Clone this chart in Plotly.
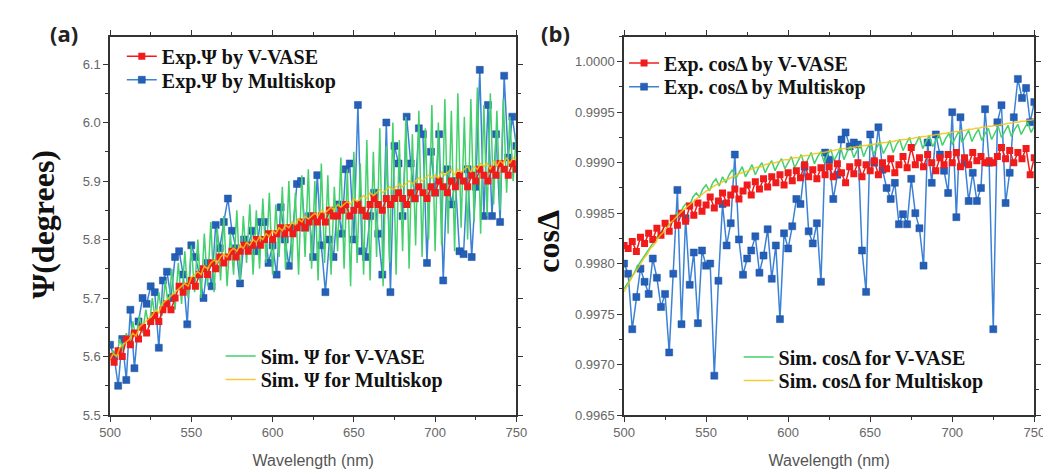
import plotly.graph_objects as go

# ---------------- data ----------------
wl_exp = [500 + 2.5 * i for i in range(101)]
wl_sim = list(range(500, 751, 2))

psi_vvase = [
    5.60, 5.59, 5.61, 5.60, 5.63, 5.62, 5.64, 5.63, 5.65, 5.64,
    5.66, 5.67, 5.66, 5.68, 5.69, 5.68, 5.70, 5.72, 5.71, 5.72,
    5.73, 5.72, 5.74, 5.75, 5.74, 5.76, 5.75, 5.77, 5.76, 5.77,
    5.78, 5.77, 5.78, 5.79, 5.78, 5.79, 5.80, 5.79, 5.80, 5.81,
    5.80, 5.81, 5.82, 5.81, 5.82, 5.81, 5.82, 5.83, 5.82, 5.83,
    5.84, 5.83, 5.84, 5.83, 5.85, 5.84, 5.84, 5.85, 5.86, 5.84,
    5.85, 5.86, 5.85, 5.84, 5.86, 5.87, 5.86, 5.85, 5.87, 5.86,
    5.87, 5.88, 5.87, 5.86, 5.88, 5.87, 5.89, 5.88, 5.87, 5.89,
    5.88, 5.90, 5.89, 5.88, 5.90, 5.89, 5.91, 5.90, 5.89, 5.91,
    5.90, 5.92, 5.91, 5.90, 5.92, 5.91, 5.93, 5.92, 5.91, 5.93,
    5.92]

psi_multiskop = [
    5.62, 5.60, 5.55, 5.63, 5.56, 5.68, 5.58, 5.66, 5.70, 5.69,
    5.72, 5.71, 5.615, 5.73, 5.745, 5.70, 5.77, 5.78, 5.74, 5.655,
    5.79, 5.77, 5.74, 5.70, 5.76, 5.72, 5.825, 5.785, 5.83, 5.87,
    5.815, 5.785, 5.725, 5.80, 5.79, 5.815, 5.78, 5.83, 5.83, 5.76,
    5.79, 5.74, 5.855, 5.80, 5.755, 5.82, 5.895, 5.90, 5.82, 5.84,
    5.77, 5.91, 5.79, 5.71, 5.80, 5.77, 5.86, 5.81, 5.92, 5.93,
    5.80, 6.03, 5.78, 5.77, 5.84, 5.88, 5.81, 5.74, 6.00, 5.71,
    5.96, 5.93, 5.84, 6.01, 5.93, 5.87, 5.99, 5.98, 5.76, 5.95,
    5.88, 5.98, 5.73, 5.92, 5.86, 5.90, 5.78, 5.775, 5.92, 5.77,
    5.89, 6.09, 5.84, 6.03, 5.84, 5.98, 5.83, 6.08, 5.94, 6.01,
    5.96]

psi_sim_vvase = [
    5.60, 5.61, 5.60, 5.63, 5.61, 5.64, 5.62, 5.66, 5.63, 5.67,
    5.64, 5.68, 5.65, 5.70, 5.66, 5.71, 5.67, 5.73, 5.68, 5.75,
    5.68, 5.76, 5.69, 5.78, 5.70, 5.79, 5.71, 5.80, 5.70, 5.81,
    5.72, 5.83, 5.71, 5.82, 5.73, 5.84, 5.72, 5.81, 5.74, 5.85,
    5.73, 5.84, 5.76, 5.86, 5.74, 5.85, 5.75, 5.87, 5.76, 5.88,
    5.74, 5.86, 5.77, 5.89, 5.75, 5.90, 5.76, 5.88, 5.74, 5.91,
    5.77, 5.92, 5.75, 5.90, 5.73, 5.93, 5.76, 5.91, 5.74, 5.89,
    5.78, 5.94, 5.75, 5.92, 5.72, 5.95, 5.76, 5.93, 5.74, 5.97,
    5.73, 5.95, 5.77, 5.99, 5.72, 5.96, 5.76, 6.00, 5.74, 5.97,
    5.78, 6.01, 5.75, 5.98, 5.79, 6.02, 5.77, 5.99, 5.80, 6.03,
    5.78, 6.00, 5.79, 6.04, 5.81, 6.02, 5.78, 6.05, 5.82, 6.01,
    5.80, 6.04, 5.83, 6.06, 5.81, 6.03, 5.84, 6.05, 5.86, 6.02,
    5.85, 6.04, 5.88, 6.01, 5.90, 5.98]

psi_sim_multiskop = [
    5.595, 5.605, 5.60, 5.615, 5.62, 5.625, 5.63, 5.64, 5.635, 5.65,
    5.655, 5.66, 5.665, 5.67, 5.68, 5.675, 5.69, 5.695, 5.70, 5.705,
    5.71, 5.715, 5.72, 5.725, 5.72, 5.735, 5.74, 5.745, 5.74, 5.755,
    5.75, 5.76, 5.765, 5.76, 5.77, 5.775, 5.77, 5.78, 5.785, 5.78,
    5.79, 5.785, 5.795, 5.79, 5.80, 5.795, 5.805, 5.80, 5.81, 5.805,
    5.815, 5.81, 5.82, 5.815, 5.825, 5.82, 5.83, 5.825, 5.835, 5.83,
    5.84, 5.835, 5.84, 5.845, 5.84, 5.85, 5.845, 5.85, 5.855, 5.85,
    5.86, 5.855, 5.86, 5.865, 5.86, 5.87, 5.865, 5.87, 5.875, 5.87,
    5.88, 5.875, 5.88, 5.885, 5.88, 5.885, 5.89, 5.885, 5.89, 5.895,
    5.89, 5.895, 5.90, 5.895, 5.90, 5.905, 5.90, 5.905, 5.91, 5.905,
    5.91, 5.905, 5.915, 5.91, 5.915, 5.92, 5.91, 5.92, 5.915, 5.92,
    5.925, 5.915, 5.925, 5.92, 5.93, 5.925, 5.93, 5.92, 5.935, 5.925,
    5.935, 5.93, 5.94, 5.93, 5.94, 5.935]

cos_vvase = [
    0.99818, 0.99815, 0.99822, 0.99812, 0.99826, 0.99820, 0.99830, 0.99824, 0.99835, 0.99828,
    0.99840, 0.99832, 0.99845, 0.99838, 0.99850, 0.99842, 0.99857, 0.99848, 0.99860, 0.99852,
    0.99858, 0.99866, 0.99855, 0.99862, 0.99870, 0.99860, 0.99868, 0.99874, 0.99864, 0.99872,
    0.99878, 0.99868, 0.99881, 0.99874, 0.99884, 0.99876, 0.99886, 0.99880, 0.99888, 0.99878,
    0.99890, 0.99882, 0.99892, 0.99885, 0.99898, 0.99886, 0.99893, 0.99884, 0.99895, 0.99888,
    0.99896, 0.99886, 0.99899, 0.99890, 0.99880, 0.99896, 0.99889, 0.99900, 0.99886, 0.99898,
    0.99892, 0.99902, 0.99888, 0.99900, 0.99894, 0.99904, 0.99890, 0.99898, 0.99906, 0.99895,
    0.99915, 0.99898, 0.99905, 0.99896, 0.99908, 0.99900, 0.99892, 0.99905, 0.99898, 0.99908,
    0.99900, 0.99910, 0.99896, 0.99905, 0.99898, 0.99910, 0.99902, 0.99906, 0.99900, 0.99902,
    0.99900, 0.99906, 0.99915, 0.99904, 0.99912, 0.99900, 0.99910, 0.99904, 0.99914, 0.99888,
    0.99905]

cos_multiskop = [
    0.99800, 0.99790, 0.99735, 0.99767, 0.99795, 0.99782, 0.99770, 0.99805, 0.99786, 0.99757,
    0.99770, 0.99712, 0.99790, 0.99873, 0.99740, 0.99845, 0.99779, 0.99811, 0.99741, 0.99813,
    0.99798, 0.99800, 0.99689, 0.99783, 0.99859, 0.99818, 0.99840, 0.99908, 0.99824, 0.99789,
    0.99805, 0.99813, 0.99827, 0.99791, 0.99808, 0.99834, 0.99785, 0.99818, 0.99745, 0.99830,
    0.99815, 0.99837, 0.99864, 0.99859, 0.99896, 0.99832, 0.99820, 0.99840, 0.99782, 0.99910,
    0.99903, 0.99864, 0.99888, 0.99923, 0.99930, 0.99916, 0.99920, 0.99918, 0.99813, 0.99772,
    0.99928, 0.99900, 0.99935, 0.99893, 0.99875, 0.99864, 0.99880, 0.99839, 0.99849, 0.99839,
    0.99884, 0.99850, 0.99835, 0.99798, 0.99920, 0.99880, 0.99928, 0.99908, 0.99892, 0.99870,
    0.99950, 0.99846, 0.99945, 0.99900, 0.99862, 0.99890, 0.99862, 0.99875, 0.99953, 0.99900,
    0.99735, 0.99940, 0.99957, 0.99860, 0.99890, 0.99945, 0.99983, 0.99964, 0.99974, 0.99940,
    0.99960]

cos_sim_vvase = [
    0.99775, 0.99780, 0.99786, 0.99790, 0.99797, 0.99802, 0.99806, 0.99812, 0.99816, 0.99822,
    0.99826, 0.99830, 0.99835, 0.99840, 0.99838, 0.99846, 0.99850, 0.99848, 0.99856, 0.99860,
    0.99858, 0.99866, 0.99870, 0.99866, 0.99874, 0.99878, 0.99872, 0.99880, 0.99884, 0.99877,
    0.99886, 0.99880, 0.99888, 0.99893, 0.99884, 0.99890, 0.99896, 0.99886, 0.99892, 0.99898,
    0.99888, 0.99895, 0.99900, 0.99890, 0.99897, 0.99902, 0.99892, 0.99899, 0.99904, 0.99894,
    0.99900, 0.99906, 0.99895, 0.99902, 0.99908, 0.99897, 0.99904, 0.99910, 0.99899, 0.99906,
    0.99911, 0.99900, 0.99908, 0.99913, 0.99902, 0.99909, 0.99915, 0.99903, 0.99911, 0.99916,
    0.99905, 0.99912, 0.99918, 0.99906, 0.99914, 0.99919, 0.99908, 0.99915, 0.99921, 0.99909,
    0.99916, 0.99922, 0.99910, 0.99918, 0.99923, 0.99912, 0.99919, 0.99925, 0.99913, 0.99920,
    0.99926, 0.99914, 0.99921, 0.99927, 0.99916, 0.99922, 0.99928, 0.99917, 0.99924, 0.99929,
    0.99918, 0.99925, 0.99931, 0.99920, 0.99926, 0.99932, 0.99921, 0.99928, 0.99933, 0.99922,
    0.99929, 0.99934, 0.99923, 0.99930, 0.99936, 0.99925, 0.99931, 0.99937, 0.99926, 0.99933,
    0.99938, 0.99928, 0.99934, 0.99940, 0.99930, 0.99936]

cos_sim_multiskop = [
    0.99772, 0.99778, 0.99783, 0.99790, 0.99794, 0.99800, 0.99805, 0.99809, 0.99815, 0.99818,
    0.99823, 0.99828, 0.99831, 0.99836, 0.99840, 0.99843, 0.99847, 0.99850, 0.99853, 0.99856,
    0.99859, 0.99862, 0.99864, 0.99867, 0.99869, 0.99872, 0.99873, 0.99876, 0.99878, 0.99879,
    0.99881, 0.99883, 0.99884, 0.99886, 0.99887, 0.99889, 0.99890, 0.99891, 0.99892, 0.99894,
    0.99895, 0.99896, 0.99896, 0.99898, 0.99899, 0.99900, 0.99900, 0.99901, 0.99902, 0.99903,
    0.99903, 0.99904, 0.99905, 0.99905, 0.99906, 0.99907, 0.99907, 0.99908, 0.99909, 0.99909,
    0.99910, 0.99910, 0.99911, 0.99912, 0.99912, 0.99913, 0.99913, 0.99914, 0.99914, 0.99915,
    0.99915, 0.99916, 0.99916, 0.99917, 0.99917, 0.99918, 0.99918, 0.99919, 0.99919, 0.99920,
    0.99920, 0.99921, 0.99921, 0.99922, 0.99922, 0.99923, 0.99923, 0.99924, 0.99924, 0.99925,
    0.99925, 0.99926, 0.99926, 0.99927, 0.99927, 0.99928, 0.99928, 0.99929, 0.99929, 0.99930,
    0.99930, 0.99931, 0.99931, 0.99932, 0.99932, 0.99933, 0.99933, 0.99934, 0.99934, 0.99935,
    0.99935, 0.99936, 0.99936, 0.99937, 0.99937, 0.99938, 0.99938, 0.99939, 0.99939, 0.99940,
    0.99940, 0.99941, 0.99941, 0.99942, 0.99942, 0.99943]

names_a = ["<b>Exp.Ψ by V-VASE</b>", "<b>Exp.Ψ by Multiskop</b>",
           "<b>Sim. Ψ for V-VASE</b>", "<b>Sim. Ψ for Multiskop</b>"]
names_b = ["<b>Exp. cosΔ by V-VASE</b>", "<b>Exp. cosΔ by Multiskop</b>",
           "<b>Sim. cosΔ for V-VASE</b>", "<b>Sim. cosΔ for Multiskop</b>"]

# ---------------- styles ----------------
RED = "#f01c1c"
BLUE_M = "#2460b8"
BLUE_L = "#3c82d6"
GREEN = "#45d06e"
YELLOW = "#f2c318"

fig = go.Figure()


def add_panel(xa, ya, exp1, exp2, sim1, sim2, names, legs):
    fig.add_trace(go.Scatter(
        x=wl_exp, y=exp2, mode="lines+markers", name=names[1],
        line=dict(color=BLUE_L, width=1.5),
        marker=dict(symbol="square", size=7, color=BLUE_M,
                    line=dict(color="#1d4f9c", width=0.5)),
        xaxis=xa, yaxis=ya, legend=legs[1]))
    fig.add_trace(go.Scatter(
        x=wl_sim, y=sim1, mode="lines", name=names[2],
        line=dict(color=GREEN, width=1.5),
        xaxis=xa, yaxis=ya, legend=legs[2]))
    fig.add_trace(go.Scatter(
        x=wl_exp, y=exp1, mode="lines+markers", name=names[0],
        line=dict(color=RED, width=1.5),
        marker=dict(symbol="square", size=7, color=RED),
        xaxis=xa, yaxis=ya, legend=legs[0]))
    fig.add_trace(go.Scatter(
        x=wl_sim, y=sim2, mode="lines", name=names[3],
        line=dict(color=YELLOW, width=1.5), opacity=0.85,
        xaxis=xa, yaxis=ya, legend=legs[3]))


add_panel("x", "y", psi_vvase, psi_multiskop, psi_sim_vvase, psi_sim_multiskop,
          names_a, ["legend", "legend2", "legend3", "legend4"])
add_panel("x2", "y2", cos_vvase, cos_multiskop, cos_sim_vvase, cos_sim_multiskop,
          names_b, ["legend5", "legend6", "legend7", "legend8"])

W, H = 1051, 474
ydom = [1 - 414 / H, 1 - 29 / H]

tickfont = dict(family="Liberation Sans, Arial, sans-serif", size=13, color="#666666")
axis_common = dict(
    showline=True, linecolor="#333333", linewidth=1.5, mirror="ticks",
    ticks="outside", ticklen=5, tickwidth=1, tickcolor="#333333",
    showgrid=False, zeroline=False, tickfont=tickfont,
)
xtitle = dict(text="Wavelength (nm)",
              font=dict(family="Liberation Sans, Arial, sans-serif", size=16, color="#555555"),
              standoff=15)
minor_x = dict(dtick=25, ticks="outside", ticklen=3, tickcolor="#333333")

legfont = dict(family="Liberation Serif, Times New Roman, serif", size=20, color="#111111")
leg_common = dict(bgcolor="rgba(0,0,0,0)", borderwidth=0, font=legfont,
                  tracegroupgap=0, itemwidth=30, xanchor="left", yanchor="middle")


def leg(xtext, yrow):
    return dict(x=(xtext - 52) / W, y=1 - yrow / H, **leg_common)


fig.update_layout(
    width=W, height=H,
    margin=dict(l=0, r=0, t=0, b=0),
    paper_bgcolor="white", plot_bgcolor="white",
    showlegend=True,
    xaxis=dict(domain=[93 / W, 508 / W], range=[500, 750], dtick=50, tick0=500,
               minor=minor_x, title=xtitle, anchor="y", **axis_common),
    yaxis=dict(domain=ydom, range=[5.5, 6.147], dtick=0.1, tick0=5.5, tickformat=".1f",
               minor=dict(dtick=0.05, ticks="outside", ticklen=3, tickcolor="#333333"),
               anchor="x", **axis_common),
    xaxis2=dict(domain=[618 / W, 1037 / W], range=[500, 750], dtick=50, tick0=500,
                minor=minor_x, title=xtitle, anchor="y2", **axis_common),
    yaxis2=dict(domain=ydom, range=[0.9965, 1.00025], dtick=0.0005, tick0=0.9965,
                tickformat=".4f",
                minor=dict(dtick=0.00025, ticks="outside", ticklen=3, tickcolor="#333333"),
                anchor="x2", **axis_common),
    legend=leg(157, 49),
    legend2=leg(157, 73),
    legend3=leg(258, 354),
    legend4=leg(258, 378),
    legend5=leg(670, 56),
    legend6=leg(670, 80),
    legend7=leg(787, 355),
    legend8=leg(787, 379),
)

annos = [
    dict(text="<b>(a)</b>", x=46 / W, y=1 - 25 / H, xref="paper", yref="paper",
         showarrow=False, xanchor="center", yanchor="middle",
         font=dict(family="Open Sans, Liberation Sans, sans-serif", size=22, color="#222222")),
    dict(text="<b>(b)</b>", x=548 / W, y=1 - 25 / H, xref="paper", yref="paper",
         showarrow=False, xanchor="center", yanchor="middle",
         font=dict(family="Open Sans, Liberation Sans, sans-serif", size=22, color="#222222")),
    dict(text="<b>Ψ(degrees)</b>", x=25 / W, y=1 - 220 / H, xref="paper", yref="paper",
         showarrow=False, textangle=-90, xanchor="center", yanchor="middle",
         font=dict(family="Liberation Serif, Times New Roman, serif", size=32, color="#111111")),
    dict(text="<b>cosΔ</b>", x=540 / W, y=1 - 237 / H, xref="paper", yref="paper",
         showarrow=False, textangle=-90, xanchor="center", yanchor="middle",
         font=dict(family="Liberation Serif, Times New Roman, serif", size=32, color="#111111")),
]
fig.update_layout(annotations=annos)

fig.write_html("out.html")
